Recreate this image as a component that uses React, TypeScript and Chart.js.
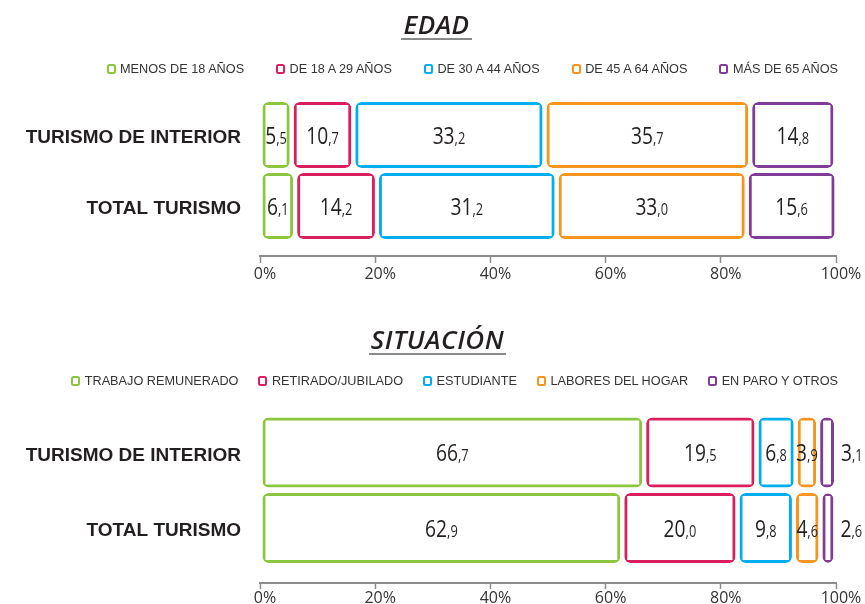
import React, { useEffect, useRef } from 'react';
import { Chart, registerables } from 'chart.js';

Chart.register(...registerables);

// ---------- data ----------
const rowLabels = ['TURISMO DE INTERIOR', 'TOTAL TURISMO'];

const edadTitle = 'EDAD';
const edadCategories = ['MENOS DE 18 AÑOS', 'DE 18 A 29 AÑOS', 'DE 30 A 44 AÑOS', 'DE 45 A 64 AÑOS', 'MÁS DE 65 AÑOS'];
const edadInterior = [5.5, 10.7, 33.2, 35.7, 14.8];
const edadTotal = [6.1, 14.2, 31.2, 33.0, 15.6];

const situacionTitle = 'SITUACIÓN';
const situacionCategories = ['TRABAJO REMUNERADO', 'RETIRADO/JUBILADO', 'ESTUDIANTE', 'LABORES DEL HOGAR', 'EN PARO Y OTROS'];
const situacionInterior = [66.7, 19.5, 6.8, 3.9, 3.1];
const situacionTotal = [62.9, 20.0, 9.8, 4.6, 2.6];

const xTicks = [0, 20, 40, 60, 80, 100];

const colors = ['#8cc63f', '#db1f5e', '#00aeef', '#f7941d', '#803d98'];

const TEXT = '#231f20';
const AXIS = '#8c8c8c';

// ---------- value label plugin ----------
const valueLabels = {
  id: 'valueLabels',
  afterDatasetsDraw(chart: any) {
    const ctx = chart.ctx;
    chart.data.datasets.forEach((ds: any, i: number) => {
      const meta = chart.getDatasetMeta(i);
      meta.data.forEach((el: any, j: number) => {
        const v = ds.data[j];
        const { x, y, base } = el.getProps(['x', 'y', 'base'], true);
        const parts = Number(v).toFixed(1).split('.');
        const big = parts[0];
        const small = ',' + parts[1];
        const sx = 0.8;
        ctx.save();
        ctx.fillStyle = TEXT;
        ctx.textBaseline = 'alphabetic';
        ctx.textAlign = 'left';
        ctx.font = '24px "Open Sans"';
        const wb = ctx.measureText(big).width;
        ctx.font = '16px "Open Sans"';
        const ws = ctx.measureText(small).width;
        const total = (wb + ws) * sx;
        const segW = Math.abs(x - base);
        const start = segW < 20 ? Math.max(x, base) + 5 : (x + base) / 2 - total / 2;
        ctx.translate(start, y + 8.5);
        ctx.scale(sx, 1);
        ctx.font = '24px "Open Sans"';
        ctx.fillText(big, 0, 0);
        ctx.font = '16px "Open Sans"';
        ctx.fillText(small, wb, 0);
        ctx.restore();
      });
    });
  },
};

type Opts = {
  padTop: number;
  padBottom: number;
  barThickness: number;
  axisValue: number;
  tickLen: number;
  tickPad: number;
};

function makeConfig(categories: string[], interior: number[], total: number[], o: Opts): any {
  return {
    type: 'bar',
    data: {
      labels: rowLabels,
      datasets: categories.map((label, i) => ({
        label,
        data: [interior[i], total[i]],
        backgroundColor: '#ffffff',
        borderColor: colors[i],
        borderWidth: 7,
        borderSkipped: false,
        borderRadius: { topLeft: 6, topRight: 6, bottomLeft: 6, bottomRight: 6 },
        inflateAmount: -2,
        barThickness: o.barThickness,
      })),
    },
    options: {
      indexAxis: 'y',
      responsive: false,
      animation: false,
      events: [],
      layout: { padding: { top: o.padTop, bottom: o.padBottom, left: 0, right: 29 } },
      plugins: {
        legend: { display: false },
        tooltip: { enabled: false },
        title: { display: false },
      },
      scales: {
        x: {
          type: 'linear',
          stacked: true,
          min: 0,
          max: 100,
          position: { y: o.axisValue },
          afterBuildTicks: (s: any) => {
            s.ticks = xTicks.map((v) => ({ value: v }));
          },
          afterFit: (s: any) => {
            s.height = 0;
            s.paddingLeft = 0;
            s.paddingRight = 0;
          },
          ticks: {
            callback: (v: any) => v + '%',
            color: '#333333',
            font: { family: '"Open Sans"', size: 16 },
            padding: o.tickPad,
            labelOffset: 5,
            maxRotation: 0,
            autoSkip: false,
          },
          grid: {
            display: true,
            drawOnChartArea: false,
            drawTicks: true,
            tickLength: o.tickLen,
            tickColor: AXIS,
            tickWidth: 1.5,
          },
          border: { display: true, color: AXIS, width: 2 },
        },
        y: {
          type: 'category',
          stacked: true,
          afterFit: (s: any) => {
            s.width = 260;
            s.paddingTop = 0;
            s.paddingBottom = 0;
          },
          ticks: {
            color: TEXT,
            font: { family: '"Liberation Sans", Arial, sans-serif', size: 19, weight: 'bold' },
            padding: 11,
            labelOffset: 3,
          },
          grid: { display: false },
          border: { display: false },
        },
      },
    },
    plugins: [valueLabels],
  };
}

function BarCanvas({ config, width, height, top }: { config: any; width: number; height: number; top: number }) {
  const ref = useRef<HTMLCanvasElement | null>(null);
  useEffect(() => {
    if (!ref.current) return;
    const chart = new Chart(ref.current, config);
    return () => chart.destroy();
  }, [config]);
  return (
    <canvas
      ref={ref}
      width={width}
      height={height}
      style={{ position: 'absolute', left: 0, top, width, height, display: 'block' }}
    />
  );
}

function Title({ text, top, left }: { text: string; top: number; left: number }) {
  return (
    <div style={{ position: 'absolute', top, left, width: 865, textAlign: 'center' }}>
      <span
        style={{
          display: 'inline-block',
          fontFamily: '"Open Sans", sans-serif',
          fontStyle: 'italic',
          fontWeight: 600,
          fontSize: 26,
          lineHeight: '28px',
          letterSpacing: 0.5,
          color: TEXT,
          borderBottom: '2px solid #8a8a8a',
          paddingBottom: 0,
          paddingLeft: 2,
          paddingRight: 2,
        }}
      >
        {text}
      </span>
    </div>
  );
}

function Legend({ items, top, gap }: { items: string[]; top: number; gap: number }) {
  return (
    <div
      style={{
        position: 'absolute',
        top,
        right: 865 - 838,
        display: 'flex',
        alignItems: 'center',
        gap,
        fontFamily: '"Liberation Sans", Arial, sans-serif',
        fontSize: 12.7,
        lineHeight: '16px',
        color: '#333333',
        whiteSpace: 'nowrap',
      }}
    >
      {items.map((label, i) => (
        <div key={label} style={{ display: 'flex', alignItems: 'center' }}>
          <span
            style={{
              display: 'inline-block',
              width: 9,
              height: 10,
              border: `2.5px solid ${colors[i]}`,
              borderRadius: 2.5,
              boxSizing: 'border-box',
              marginRight: 4.5,
            }}
          />
          <span>{label}</span>
        </div>
      ))}
    </div>
  );
}

const edadConfig = makeConfig(edadCategories, edadInterior, edadTotal, {
  padTop: 99.5,
  padBottom: 58.5,
  barThickness: 70,
  axisValue: 1.71,
  tickLen: 6,
  tickPad: 2,
});

const situacionConfig = makeConfig(situacionCategories, situacionInterior, situacionTotal, {
  padTop: 114.75,
  padBottom: 38.25,
  barThickness: 74,
  axisValue: 1.725,
  tickLen: 5,
  tickPad: 1,
});

export default function App() {
  return (
    <div
      style={{
        position: 'absolute',
        left: 0,
        top: 0,
        width: 865,
        height: 604,
        background: '#ffffff',
        overflow: 'hidden',
      }}
    >
      <BarCanvas config={edadConfig} width={865} height={300} top={0} />
      <BarCanvas config={situacionConfig} width={865} height={304} top={300} />
      <Title text={edadTitle} top={10} left={4} />
      <Legend items={edadCategories} top={61} gap={32} />
      <Title text={situacionTitle} top={325} left={5} />
      <Legend items={situacionCategories} top={373} gap={20} />
    </div>
  );
}
